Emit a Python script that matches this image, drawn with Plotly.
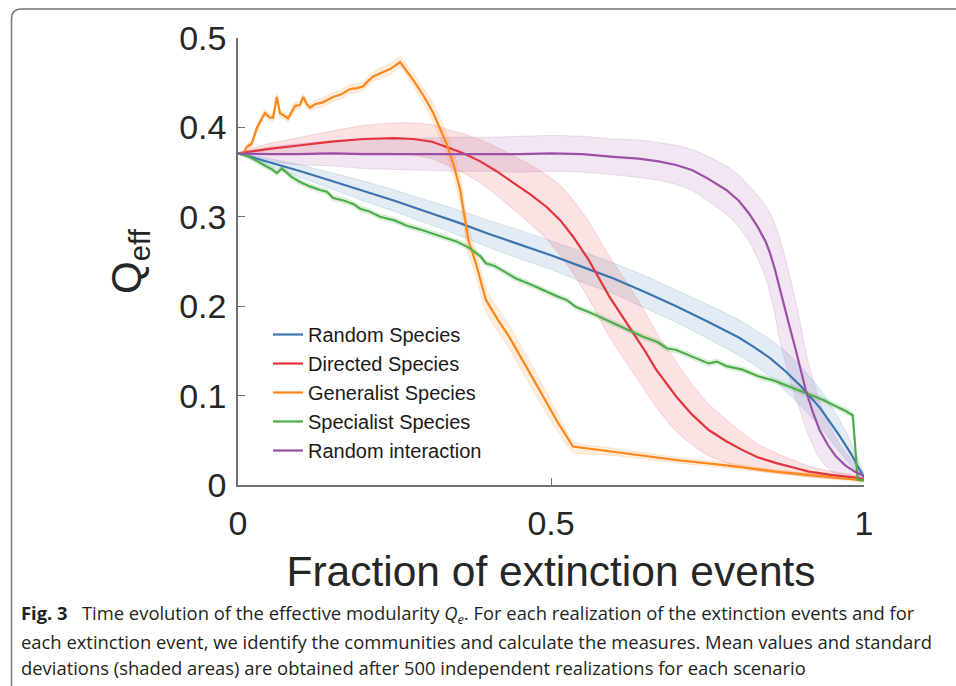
import numpy as np
import plotly.graph_objects as go

# ---------------- data ----------------
x_rand_sp = [0, 0.05, 0.1, 0.15, 0.2, 0.25, 0.3, 0.35, 0.4, 0.45, 0.5, 0.55, 0.6, 0.65, 0.7, 0.75, 0.8, 0.825, 0.85, 0.875, 0.9, 0.93, 0.96, 0.98, 1.0]
y_rand_sp = [0.371, 0.361, 0.351, 0.340, 0.329, 0.318, 0.306, 0.294, 0.281, 0.269, 0.257, 0.244, 0.231, 0.216, 0.200, 0.183, 0.165, 0.154, 0.142, 0.127, 0.110, 0.086, 0.056, 0.034, 0.008]
s_rand_sp = [0, 0.004, 0.007, 0.009, 0.011, 0.012, 0.013, 0.014, 0.015, 0.016, 0.016, 0.017, 0.017, 0.018, 0.018, 0.019, 0.020, 0.020, 0.021, 0.022, 0.022, 0.021, 0.018, 0.013, 0.003]

x_dir_sp = [0, 0.05, 0.1, 0.15, 0.2, 0.25, 0.28, 0.31, 0.333, 0.36, 0.387, 0.413, 0.44, 0.467, 0.493, 0.515, 0.535, 0.56, 0.593, 0.625, 0.65, 0.668, 0.70, 0.725, 0.752, 0.78, 0.806, 0.83, 0.86, 0.89, 0.912, 0.95, 0.99, 1.0]
y_dir_sp = [0.371, 0.376, 0.380, 0.384, 0.387, 0.388, 0.387, 0.384, 0.378, 0.371, 0.362, 0.351, 0.338, 0.325, 0.311, 0.296, 0.278, 0.252, 0.211, 0.177, 0.150, 0.129, 0.099, 0.079, 0.0615, 0.049, 0.039, 0.031, 0.0245, 0.019, 0.015, 0.011, 0.008, 0.006]
s_dir_sp = [0, 0.006, 0.009, 0.012, 0.015, 0.017, 0.018, 0.019, 0.020, 0.022, 0.024, 0.027, 0.030, 0.033, 0.036, 0.039, 0.041, 0.043, 0.045, 0.045, 0.044, 0.042, 0.039, 0.034, 0.029, 0.024, 0.019, 0.015, 0.011, 0.008, 0.006, 0.004, 0.002, 0]

x_gen_sp = [0, 0.0085, 0.014, 0.022, 0.030, 0.043, 0.051, 0.056, 0.062, 0.067, 0.074, 0.080, 0.091, 0.099, 0.104, 0.110, 0.115, 0.123, 0.135, 0.152, 0.165, 0.179, 0.190, 0.200, 0.208, 0.216, 0.232, 0.245, 0.259, 0.280, 0.296, 0.312, 0.333, 0.345, 0.355, 0.368, 0.380, 0.396, 0.415, 0.433, 0.46, 0.487, 0.51, 0.535, 0.60, 0.70, 0.78, 0.859, 0.93, 1.0]
y_gen_sp = [0.371, 0.371, 0.378, 0.382, 0.399, 0.416, 0.411, 0.411, 0.434, 0.416, 0.413, 0.410, 0.424, 0.425, 0.434, 0.426, 0.422, 0.426, 0.428, 0.434, 0.437, 0.443, 0.444, 0.446, 0.452, 0.457, 0.462, 0.466, 0.473, 0.453, 0.436, 0.416, 0.382, 0.357, 0.330, 0.274, 0.248, 0.207, 0.185, 0.166, 0.133, 0.099, 0.071, 0.043, 0.037, 0.028, 0.022, 0.015, 0.010, 0.005]
s_gen_sp = [0, 0.002, 0.003, 0.003, 0.004, 0.004, 0.004, 0.004, 0.004, 0.004, 0.004, 0.004, 0.004, 0.004, 0.004, 0.004, 0.004, 0.004, 0.005, 0.005, 0.005, 0.005, 0.005, 0.005, 0.005, 0.005, 0.006, 0.006, 0.006, 0.007, 0.008, 0.010, 0.012, 0.014, 0.015, 0.015, 0.014, 0.013, 0.013, 0.013, 0.013, 0.012, 0.010, 0.006, 0.004, 0.003, 0.003, 0.002, 0.002, 0.001]

x_spe_sp = [0, 0.012, 0.024, 0.035, 0.046, 0.055, 0.062, 0.070, 0.085, 0.099, 0.115, 0.131, 0.142, 0.152, 0.170, 0.185, 0.195, 0.210, 0.227, 0.25, 0.27, 0.29, 0.312, 0.33, 0.35, 0.37, 0.387, 0.396, 0.41, 0.425, 0.444, 0.465, 0.487, 0.51, 0.525, 0.54, 0.565, 0.593, 0.62, 0.646, 0.67, 0.685, 0.70, 0.725, 0.752, 0.765, 0.78, 0.806, 0.83, 0.859, 0.885, 0.912, 0.935, 0.955, 0.97, 0.982, 0.990, 1.0]
y_spe_sp = [0.371, 0.369, 0.365, 0.360, 0.356, 0.353, 0.349, 0.354, 0.345, 0.339, 0.334, 0.330, 0.328, 0.321, 0.318, 0.314, 0.309, 0.306, 0.300, 0.296, 0.290, 0.286, 0.281, 0.277, 0.272, 0.265, 0.256, 0.248, 0.245, 0.239, 0.231, 0.225, 0.218, 0.211, 0.207, 0.199, 0.192, 0.183, 0.175, 0.166, 0.160, 0.153, 0.151, 0.144, 0.136, 0.138, 0.133, 0.129, 0.122, 0.116, 0.109, 0.101, 0.095, 0.088, 0.083, 0.078, 0.006, 0.005]
s_spe_sp = [0] + [0.003] * 56 + [0.001]

x_rand_int = [0, 0.05, 0.1, 0.15, 0.2, 0.25, 0.3, 0.35, 0.4, 0.45, 0.5, 0.55, 0.6, 0.64, 0.672, 0.70, 0.726, 0.75, 0.78, 0.80, 0.816, 0.83, 0.843, 0.85, 0.857, 0.863, 0.87, 0.88, 0.891, 0.90, 0.907, 0.918, 0.929, 0.942, 0.955, 0.97, 0.985, 1.0]
y_rand_int = [0.371, 0.370, 0.370, 0.371, 0.370, 0.370, 0.370, 0.370, 0.370, 0.370, 0.371, 0.370, 0.367, 0.365, 0.362, 0.358, 0.352, 0.343, 0.330, 0.318, 0.304, 0.289, 0.272, 0.259, 0.243, 0.226, 0.207, 0.180, 0.151, 0.127, 0.106, 0.082, 0.0615, 0.045, 0.032, 0.022, 0.015, 0.010]
s_rand_int = [0, 0.008, 0.012, 0.014, 0.016, 0.017, 0.018, 0.019, 0.019, 0.020, 0.020, 0.020, 0.020, 0.021, 0.021, 0.022, 0.023, 0.025, 0.027, 0.029, 0.031, 0.035, 0.040, 0.045, 0.050, 0.055, 0.058, 0.058, 0.054, 0.048, 0.043, 0.037, 0.032, 0.026, 0.021, 0.015, 0.009, 0.004]

series_names = ["Random Species", "Directed Species", "Generalist Species", "Specialist Species", "Random interaction"]
series_colors = ["#3B75AF", "#E4343B", "#FF8618", "#4CAD49", "#9B4FA5"]
band_rgb = ["59,117,175", "228,52,59", "255,134,24", "76,173,73", "155,79,165"]

x_ticks = [0, 0.5, 1]
x_ticktext = ["0", "0.5", "1"]
y_ticks = [0, 0.1, 0.2, 0.3, 0.4, 0.5]
y_ticktext = ["0", "0.1", "0.2", "0.3", "0.4", "0.5"]

caption_lines = [
    "<b>Fig.\u00a03</b>\u00a0\u00a0 Time evolution of the effective modularity <i>Q<sub>e</sub></i>. For each realization of the extinction events and for",
    "each extinction event, we identify the communities and calculate the measures. Mean values and standard",
    "deviations (shaded areas) are obtained after 500 independent realizations for each scenario",
]

# ---------------- layout geometry (pixels) ----------------
W, H = 956, 686
L, R, T, B = 238, 864, 38, 485


def pxx(x):
    return (x - L) / (R - L)


def pxy(y):
    return (B - y) / (B - T)


xs = [x_rand_sp, x_dir_sp, x_gen_sp, x_spe_sp, x_rand_int]
ys = [y_rand_sp, y_dir_sp, y_gen_sp, y_spe_sp, y_rand_int]
ss = [s_rand_sp, s_dir_sp, s_gen_sp, s_spe_sp, s_rand_int]

fig = go.Figure()

# shaded bands
for x, y, s, rgb in zip(xs, ys, ss, band_rgb):
    x = np.array(x, float)
    y = np.array(y, float)
    s = np.array(s, float)
    up = y + s
    lo = np.clip(y - s, 0, None)
    fig.add_trace(go.Scatter(
        x=np.concatenate([x, x[::-1]]),
        y=np.concatenate([up, lo[::-1]]),
        fill="toself",
        fillcolor=f"rgba({rgb},0.14)",
        line=dict(color=f"rgba({rgb},0.22)", width=0.8, shape="spline", smoothing=0.6),
        mode="lines",
        hoverinfo="skip",
        showlegend=False,
    ))

# mean lines
for x, y, name, col in zip(xs, ys, series_names, series_colors):
    fig.add_trace(go.Scatter(
        x=x, y=y, mode="lines", name=name,
        line=dict(color=col, width=2.2),
    ))

FONT = "Liberation Sans, Arial, sans-serif"
axis_col = "#6f6f6f"

fig.update_layout(
    width=W, height=H,
    margin=dict(l=L, r=W - R, t=T, b=H - B, autoexpand=False),
    paper_bgcolor="white",
    plot_bgcolor="white",
    font=dict(family=FONT, color="#262626"),
    showlegend=True,
    legend=dict(
        x=pxx(268), y=pxy(315), xanchor="left", yanchor="top",
        bgcolor="rgba(0,0,0,0)", borderwidth=0,
        font=dict(family=FONT, size=20, color="#1a1a1a"),
        tracegroupgap=0, itemwidth=30,
    ),
    xaxis=dict(
        range=[0, 1], tickmode="array", tickvals=x_ticks, ticktext=x_ticktext,
        showgrid=False, zeroline=False, showline=True, linecolor=axis_col, linewidth=1.5,
        ticks="inside", ticklen=7, tickcolor=axis_col, tickwidth=1.2,
        tickfont=dict(family=FONT, size=34, color="#262626"),
        ticklabelstandoff=7,
        title=dict(text="Fraction of extinction events",
                   font=dict(family=FONT, size=42.5, color="#262626"), standoff=16),
        automargin=False,
    ),
    yaxis=dict(
        range=[0, 0.5], tickmode="array", tickvals=y_ticks, ticktext=y_ticktext,
        showgrid=False, zeroline=False, showline=True, linecolor=axis_col, linewidth=1.5,
        ticks="inside", ticklen=7, tickcolor=axis_col, tickwidth=1.2,
        tickfont=dict(family=FONT, size=34, color="#262626"),
        ticklabelstandoff=3,
        title=dict(text="Q<sub>eff</sub>",
                   font=dict(family=FONT, size=42, color="#262626"), standoff=24),
        automargin=False,
    ),
)

# figure frame (rounded top-left corner)
path = (f"M {pxx(11.5)},{pxy(720)} L {pxx(11.5)},{pxy(19)} "
        f"Q {pxx(11.5)},{pxy(9)} {pxx(21.5)},{pxy(9)} L {pxx(990)},{pxy(9)}")
fig.add_shape(type="path", path=path, xref="paper", yref="paper",
              line=dict(color="#7a7a7a", width=1.5), layer="above")

# caption
cap_y = [614, 641, 667]
for txt, yy in zip(caption_lines, cap_y):
    fig.add_annotation(
        text=txt, x=pxx(19), y=pxy(yy), xref="paper", yref="paper",
        xanchor="left", yanchor="middle", showarrow=False,
        font=dict(family="Open Sans, sans-serif", size=18.4, color="#231f20"),
    )

fig.write_html("out.html")
